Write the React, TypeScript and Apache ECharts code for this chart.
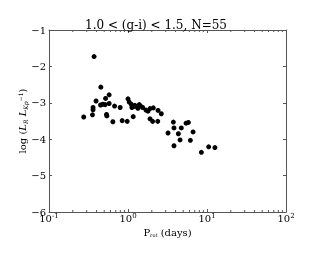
import React, { useEffect, useRef } from "react";
import * as echarts from "echarts";

const periods = [
  0.372, 0.453, 0.577, 0.52, 0.394, 0.449, 0.48, 0.514, 0.577, 0.361, 0.361,
  0.676, 0.796, 1.0, 1.036, 1.099, 1.12, 1.188, 1.27, 1.387, 1.445, 1.532,
  1.336, 1.687, 1.79, 1.9, 2.09, 2.4, 2.64, 0.275, 0.355, 0.535, 0.54, 1.164,
  0.643, 0.844, 0.977, 1.9, 2.05, 2.38, 3.75, 5.43, 5.81, 3.21, 3.82, 4.73,
  4.34, 6.66, 4.56, 6.16, 3.82, 8.49, 10.5, 12.6, 1.22,
];
const logRatio = [
  -1.73, -2.57, -2.78, -2.88, -2.95, -3.06, -3.04, -3.05, -3.02, -3.13, -3.19,
  -3.09, -3.13, -2.89, -2.98, -3.04, -3.13, -3.1, -3.1, -3.05, -3.09, -3.13,
  -3.15, -3.2, -3.23, -3.16, -3.14, -3.21, -3.3, -3.39, -3.33, -3.32, -3.36,
  -3.38, -3.52, -3.49, -3.51, -3.44, -3.51, -3.51, -3.53, -3.56, -3.54, -3.83,
  -3.69, -3.69, -3.85, -3.8, -4.02, -4.03, -4.18, -4.36, -4.21, -4.23, -3.07,
];
const minorTickValues = [
  0.2, 0.3, 0.4, 0.5, 0.6, 0.7, 0.8, 0.9, 2, 3, 4, 5, 6, 7, 8, 9, 20, 30, 40,
  50, 60, 70, 80, 90,
];
const titleText = "1.0 < (g-i) < 1.5, N=55";

const FONT = "DejaVu Serif";
const FRAME = "#555";

export default function App() {
  const ref = useRef<HTMLDivElement>(null);
  useEffect(() => {
    if (!ref.current) return;
    const chart = echarts.init(ref.current, undefined, { renderer: "svg" });
    const xCommon = {
      type: "log" as const,
      logBase: 10,
      min: 0.1,
      max: 100,
      splitLine: { show: false },
      axisLine: { show: true, lineStyle: { color: FRAME, width: 1 } },
      axisTick: { show: true, inside: true, length: 3, lineStyle: { color: FRAME } },
      minorTick: { show: false },
    };
    const yCommon = {
      type: "value" as const,
      min: -6,
      max: -1,
      interval: 1,
      splitLine: { show: false },
      axisLine: { show: true, onZero: false, lineStyle: { color: FRAME, width: 1 } },
      axisTick: { show: true, inside: true, length: 3, lineStyle: { color: FRAME } },
    };
    chart.setOption({
      animation: false,
      title: {
        text: titleText,
        left: "center",
        top: 14,
        textStyle: { fontFamily: FONT, fontSize: 12, fontWeight: "normal", color: "#000" },
      },
      grid: { left: 49, right: 26, top: 30, bottom: 45 },
      xAxis: [
        {
          ...xCommon,
          position: "bottom",
          name: "{n|P}{s|rot}{n| (days)}",
          nameLocation: "middle",
          nameGap: 15,
          nameTextStyle: {
            rich: {
              n: { fontFamily: FONT, fontSize: 10, color: "#000" },
              s: { fontFamily: FONT, fontSize: 5, color: "#000", verticalAlign: "bottom", padding: [4, 0, 0, 0] },
            },
          },
          axisLabel: {
            margin: 0,
            formatter: (v: number) => {
              const e = Math.round(Math.log10(v));
              return "{b|10}{e|" + (e < 0 ? "-" + Math.abs(e) : String(e)) + "}";
            },
            rich: {
              b: { fontFamily: FONT, fontSize: 10, color: "#000" },
              e: { fontFamily: FONT, fontSize: 7, color: "#000", verticalAlign: "top", padding: [0, 0, 5, 0] },
            },
          },
        },
        {
          ...xCommon,
          position: "top",
          axisLabel: { show: false },
        },
      ],
      yAxis: [
        {
          ...yCommon,
          position: "left",
          name: "{n|log (}{i|L}{s|R}{n| }{i|L}{s|Kp}{u|−1}{n|)}",
          nameLocation: "middle",
          nameRotate: 90,
          nameGap: 21,
          nameMoveOverlap: false,
          nameTextStyle: {
            rich: {
              n: { fontFamily: FONT, fontSize: 10, color: "#000" },
              i: { fontFamily: FONT, fontSize: 10, fontStyle: "italic", color: "#000" },
              s: { fontFamily: FONT, fontSize: 6, fontStyle: "italic", color: "#000", padding: [5, 0, 0, 0] },
              u: { fontFamily: FONT, fontSize: 6, color: "#000", padding: [0, 0, 5, 0] },
            },
          },
          axisLabel: {
            margin: 3,
            fontFamily: FONT,
            fontSize: 10,
            color: "#000",
            formatter: (v: number) => String(v).replace("-", "\u2212"),
          },
        },
        {
          ...yCommon,
          position: "right",
          axisLabel: { show: false },
        },
      ],
      series: [
        {
          type: "scatter",
          xAxisIndex: 0,
          yAxisIndex: 0,
          symbolSize: 5,
          itemStyle: { color: "#000", opacity: 1 },
          data: periods.map((p, i) => [p, logRatio[i]]),
          z: 3,
        },
        {
          type: "custom",
          xAxisIndex: 0,
          yAxisIndex: 0,
          silent: true,
          data: minorTickValues.map((v) => [v]),
          renderItem: (_params: any, api: any) => {
            const v = api.value(0);
            const b = api.coord([v, -6]);
            const t = api.coord([v, -1]);
            return {
              type: "group",
              children: [
                { type: "line", shape: { x1: b[0], y1: b[1], x2: b[0], y2: b[1] - 2 }, style: { stroke: FRAME, lineWidth: 1 } },
                { type: "line", shape: { x1: t[0], y1: t[1], x2: t[0], y2: t[1] + 2 }, style: { stroke: FRAME, lineWidth: 1 } },
              ],
            };
          },
          z: 2,
        },
      ],
    });
    return () => chart.dispose();
  }, []);
  return (
    <div
      ref={ref}
      style={{ position: "fixed", left: 0, top: 0, width: 312, height: 257 }}
    />
  );
}
